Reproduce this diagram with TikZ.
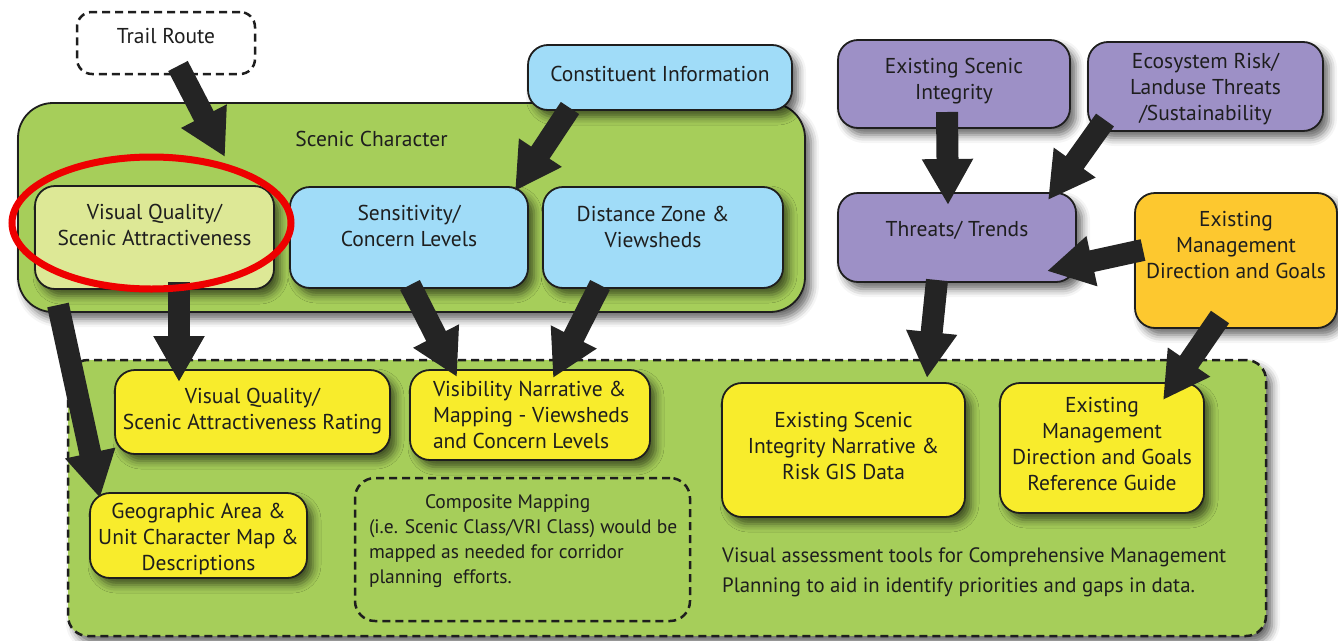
\documentclass[tikz,border=0pt]{standalone}
\usepackage{fontspec}
\setmainfont{PT Sans}
\usetikzlibrary{arrows.meta,shadows.blur}
\definecolor{scgreen}{RGB}{166,206,90}
\definecolor{vqgreen}{RGB}{221,232,150}
\definecolor{lblue}{RGB}{160,220,248}
\definecolor{lpurple}{RGB}{157,144,198}
\definecolor{orangebox}{RGB}{253,200,47}
\definecolor{ybox}{RGB}{248,236,44}
\definecolor{boxline}{RGB}{30,30,30}
\definecolor{arrowc}{RGB}{36,36,36}
\definecolor{ringred}{RGB}{238,0,0}
\tikzset{
  bx/.style={draw=boxline, line width=1.8pt, rounded corners=20pt},
  shad/.style={blur shadow={shadow xshift=6pt, shadow yshift=-7pt, shadow blur radius=8pt, shadow opacity=60}},
  dashbox/.style={draw=boxline, line width=2.5pt, dash pattern=on 8pt off 5pt, rounded corners=20pt},
  flow/.style={draw=arrowc, line width=22pt, -{Triangle[length=46pt,width=48pt]}},
}
\newcommand\bx[8]{\node[#2, anchor=north west, inner sep=0pt, outer sep=0pt] (#1) at (#3,#4) {\parbox[c][\dimexpr#6pt-#4pt\relax][t]{\dimexpr#5pt-#3pt\relax}{\vspace*{\dimexpr#7pt+15pt\relax}#8}};}
\begin{document}
\begin{tikzpicture}[x=1pt, y=-1pt, font=\fontsize{21.5}{26}\selectfont, text=boxline]
\useasboundingbox (0,0) rectangle (1338,640);
% large containers
\bx{scenic}{bx, fill=scgreen, shad, rounded corners=35pt}{18}{103}{805}{312}{10}{\centering\strut\hspace*{-80pt}Scenic Character}
\node[dashbox, fill=scgreen, shad, anchor=north west, minimum width=1198pt, minimum height=276pt, inner sep=0pt, outer sep=0pt] (tools) at (68,360) {};
% top boxes
\bx{trail}{dashbox, fill=white, rounded corners=15pt}{77}{12}{255}{74}{-2}{\centering\strut Trail Route}
\bx{const}{bx, fill=lblue, shad}{528}{45}{792}{110}{3}{\centering\strut Constituent Information}
\bx{vq}{bx, fill=vqgreen, shad}{35}{186}{274}{289}{0}{\centering\strut Visual Quality/\\Scenic Attractiveness}
\bx{sens}{bx, fill=lblue, shad}{290}{187}{528}{288}{0}{\centering\strut Sensitivity/\\Concern Levels}
\bx{dist}{bx, fill=lblue, shad}{543}{187}{783}{288}{1}{\centering\strut\hspace*{-20pt}Distance Zone \&\\\hspace*{-20pt}Viewsheds}
\bx{esi}{bx, fill=lpurple, shad}{838}{40}{1070}{128}{0}{\centering\strut Existing Scenic\\Integrity}
\bx{eco}{bx, fill=lpurple, shad}{1088}{42}{1323}{131}{-7}{\centering\strut Ecosystem Risk/\\Landuse Threats\\/Sustainability}
\bx{threat}{bx, fill=lpurple, shad}{838}{193}{1076}{282}{10}{\centering\strut Threats/ Trends}
\bx{mgmt}{bx, fill=orangebox, shad}{1135}{193}{1337}{328}{0}{\centering\strut Existing\\Management\\Direction and Goals}
% bottom boxes
\bx{vqr}{bx, fill=ybox, shad}{115}{370}{390}{454}{0}{\centering\strut Visual Quality/\\Scenic Attractiveness Rating}
\bx{vis}{bx, fill=ybox, shad}{410}{370}{650}{460}{-7}{\raggedright\leftskip=23pt\strut Visibility Narrative \&\\Mapping - Viewsheds\\and Concern Levels}
\bx{esin}{bx, fill=ybox, shad}{722}{383}{965}{517}{11}{\centering\strut Existing Scenic\\Integrity Narrative \&\\Risk GIS Data}
\bx{ref}{bx, fill=ybox, shad}{1000}{383}{1204}{513}{-4}{\centering\strut Existing\\Management\\Direction and Goals\\Reference Guide}
\bx{geo}{bx, fill=ybox, shad}{90}{493}{307}{578}{-8}{\centering\strut Geographic Area \&\\Unit Character Map \&\\Descriptions}
\bx{comp}{dashbox}{355}{478}{690}{621}{-2}{\fontsize{19.5}{25}\selectfont\raggedright\leftskip=14pt\strut\hspace*{56pt}Composite Mapping\\(i.e. Scenic Class/VRI Class) would be\\mapped as needed for corridor\\planning\ \ efforts.}
\node[anchor=north west, align=left, inner sep=0pt, font=\fontsize{20.8}{30}\selectfont] (note) at (722,541)
  {\strut Visual assessment tools for Comprehensive Management\\Planning to aid in identify priorities and gaps in data.};
% connectors
\draw[flow] ([shift={(12,-8)}]trail.south) -- ([shift={(70.5,-29)}]vq.north);
\draw[flow] ([shift={(-90,-2)}]const.south) -- ([shift={(106,4)}]sens.north);
\draw[flow] ([shift={(24.5,-7)}]vq.south) -- ([shift={(-73.5,12)}]vqr.north);
\draw[flow] ([shift={(40,-7)}]scenic.south west) -- ([shift={(-98.5,5)}]geo.north);
\draw[flow] ([shift={(1,-3)}]sens.south) -- ([shift={(-73,7)}]vis.north);
\draw[flow] ([shift={(-63,-3)}]dist.south) -- ([shift={(23,8)}]vis.north);
\draw[flow] ([shift={(-7,-16)}]esi.south) -- ([shift={(-9,12)}]threat.north);
\draw[flow] ([shift={(-100.5,-11)}]eco.south) -- ([shift={(91,7)}]threat.north);
\draw[flow] ([shift={(8,-10.5)}]mgmt.west) -- ([shift={(-29,33.5)}]threat.east);
\draw[flow] ([shift={(-20,-2)}]threat.south) -- ([shift={(83.5,-5)}]esin.north);
\draw[flow] ([shift={(-16,-11)}]mgmt.south) -- ([shift={(61,17)}]ref.north);
% highlight ring
\draw[ringred, line width=7pt] (151.5,223) ellipse [x radius=139.5, y radius=66];
\end{tikzpicture}
\end{document}
